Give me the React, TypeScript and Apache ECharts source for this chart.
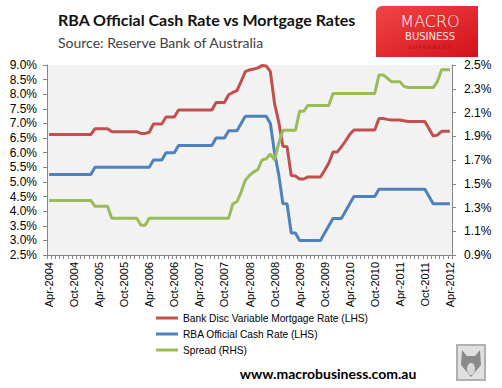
import React, { useEffect, useRef } from "react";
import * as echarts from "echarts";

const MONTH_NAMES = ["Jan", "Feb", "Mar", "Apr", "May", "Jun", "Jul", "Aug", "Sep", "Oct", "Nov", "Dec"];
const START_YEAR = 2004;
const START_MONTH = 3; // Apr
const MONTH_COUNT = 97; // Apr-2004 .. Apr-2012
const categories: string[] = [];
for (let i = 0; i < MONTH_COUNT; i++) {
  const k = START_MONTH + i;
  categories.push(`${MONTH_NAMES[k % 12]}-${START_YEAR + Math.floor(k / 12)}`);
}

const SERIES_NAMES = [
  "Bank Disc Variable Mortgage Rate (LHS)",
  "RBA Official Cash Rate (LHS)",
  "Spread (RHS)",
];

// Bank discounted variable mortgage rate (%), monthly from Apr-2004
const mortgageRate: number[] = [
  6.62, 6.62, 6.62, 6.62, 6.62, 6.62, 6.62, 6.62, 6.62,
  6.62, 6.62, 6.82, 6.82, 6.82, 6.82, 6.72, 6.72, 6.72, 6.72, 6.72, 6.72,
  6.72, 6.66, 6.66, 6.70, 6.98, 6.98, 6.98, 7.22, 7.22, 7.22, 7.46, 7.46,
  7.46, 7.46, 7.46, 7.46, 7.46, 7.46, 7.46, 7.72, 7.72, 7.72, 7.98, 8.06,
  8.12, 8.44, 8.77, 8.83, 8.86, 8.90, 8.98, 8.97, 8.77, 7.68, 7.05, 6.22,
  6.20, 5.22, 5.20, 5.10, 5.10, 5.17, 5.17, 5.17, 5.17, 5.40, 5.65, 6.02,
  6.02, 6.20, 6.40, 6.62, 6.78, 6.78, 6.78, 6.78, 6.78, 6.78, 7.17, 7.17,
  7.14, 7.12, 7.12, 7.12, 7.09, 7.07, 7.07, 7.07, 7.07, 7.07, 6.82, 6.57,
  6.60, 6.73, 6.73, 6.73,
];

// RBA official cash rate (%), monthly from Apr-2004
const cashRate: number[] = [
  5.25, 5.25, 5.25, 5.25, 5.25, 5.25, 5.25, 5.25, 5.25,
  5.25, 5.25, 5.5, 5.5, 5.5, 5.5, 5.5, 5.5, 5.5, 5.5, 5.5, 5.5,
  5.5, 5.5, 5.5, 5.5, 5.75, 5.75, 5.75, 6.0, 6.0, 6.0, 6.25, 6.25,
  6.25, 6.25, 6.25, 6.25, 6.25, 6.25, 6.25, 6.5, 6.5, 6.5, 6.75, 6.75,
  6.75, 7.0, 7.25, 7.25, 7.25, 7.25, 7.25, 7.25, 7.0, 6.0, 5.25, 4.25,
  4.25, 3.25, 3.25, 3.0, 3.0, 3.0, 3.0, 3.0, 3.0, 3.25, 3.5, 3.75,
  3.75, 3.75, 4.0, 4.25, 4.5, 4.5, 4.5, 4.5, 4.5, 4.5, 4.75, 4.75,
  4.75, 4.75, 4.75, 4.75, 4.75, 4.75, 4.75, 4.75, 4.75, 4.75, 4.5, 4.25,
  4.25, 4.25, 4.25, 4.25,
];

// Spread (%), monthly from Apr-2004 (right axis)
const spread: number[] = [
  1.36, 1.36, 1.36, 1.36, 1.36, 1.36, 1.36, 1.36, 1.36,
  1.36, 1.36, 1.31, 1.31, 1.31, 1.31, 1.21, 1.21, 1.21, 1.21, 1.21, 1.21,
  1.21, 1.15, 1.15, 1.21, 1.21, 1.21, 1.21, 1.21, 1.21, 1.21, 1.21, 1.21,
  1.21, 1.21, 1.21, 1.21, 1.21, 1.21, 1.21, 1.21, 1.21, 1.21, 1.21, 1.33,
  1.35, 1.43, 1.53, 1.57, 1.60, 1.62, 1.70, 1.71, 1.75, 1.70, 1.84, 1.95,
  1.95, 1.95, 1.95, 2.11, 2.11, 2.16, 2.16, 2.16, 2.16, 2.16, 2.16, 2.26,
  2.26, 2.26, 2.26, 2.26, 2.26, 2.26, 2.26, 2.26, 2.26, 2.26, 2.415, 2.415,
  2.39, 2.36, 2.36, 2.36, 2.32, 2.31, 2.31, 2.31, 2.31, 2.31, 2.31, 2.31,
  2.36, 2.46, 2.46, 2.46,
];

const LEFT_MIN = 2.5;
const LEFT_MAX = 9.0;
const LEFT_STEP = 0.5;
const RIGHT_MIN = 0.9;
const RIGHT_MAX = 2.5;
const RIGHT_STEP = 0.2;

const COLORS = ["#c0504d", "#4f81bd", "#9bbb59"];
const AXIS_FONT = "Liberation Sans";
const UI_FONT = "Lato";

export default function App() {
  const ref = useRef<HTMLDivElement>(null);

  useEffect(() => {
    if (!ref.current) return;
    const chart = echarts.init(ref.current, undefined, { renderer: "svg" });
    const axisLineStyle = { color: "#868686", width: 1 };
    const option: any = {
      animation: false,
      backgroundColor: "#ffffff",
      title: {
        text: "RBA Official Cash Rate vs Mortgage Rates",
        subtext: "Source: Reserve Bank of Australia",
        left: 58,
        top: 11,
        padding: 0,
        itemGap: 8,
        textStyle: { fontFamily: UI_FONT, fontSize: 16, fontWeight: "bold", color: "#111111" },
        subtextStyle: { fontFamily: UI_FONT, fontSize: 14, color: "#404040" },
      },
      grid: {
        left: 47,
        right: 50,
        top: 65,
        bottom: 133,
        show: true,
        backgroundColor: "#f2f2f2",
        borderWidth: 0,
        containLabel: false,
      },
      legend: {
        orient: "vertical",
        left: 156,
        top: 312,
        padding: 0,
        itemGap: 4,
        itemWidth: 22,
        itemHeight: 3,
        icon: "rect",
        data: SERIES_NAMES,
        textStyle: { fontFamily: AXIS_FONT, fontSize: 10.2, color: "#000", lineHeight: 12 },
      },
      xAxis: {
        type: "category",
        data: categories,
        boundaryGap: true,
        axisLine: { show: true, lineStyle: axisLineStyle },
        axisTick: { show: true, interval: 0, length: 4, lineStyle: axisLineStyle },
        axisLabel: {
          interval: 5,
          rotate: 90,
          margin: 7,
          fontFamily: AXIS_FONT,
          fontSize: 11,
          color: "#000",
        },
        splitLine: { show: false },
      },
      yAxis: [
        {
          type: "value",
          min: LEFT_MIN,
          max: LEFT_MAX,
          interval: LEFT_STEP,
          position: "left",
          axisLine: { show: true, lineStyle: axisLineStyle },
          axisTick: { show: true, length: 4, lineStyle: axisLineStyle },
          axisLabel: {
            margin: 10,
            fontFamily: AXIS_FONT,
            fontSize: 12,
            color: "#000",
            formatter: (v: number) => v.toFixed(1) + "%",
          },
          splitLine: { show: false },
        },
        {
          type: "value",
          min: RIGHT_MIN,
          max: RIGHT_MAX,
          interval: RIGHT_STEP,
          position: "right",
          axisLine: { show: true, lineStyle: axisLineStyle },
          axisTick: { show: true, length: 4, lineStyle: axisLineStyle },
          axisLabel: {
            margin: 12,
            fontFamily: AXIS_FONT,
            fontSize: 12,
            color: "#000",
            formatter: (v: number) => v.toFixed(1) + "%",
          },
          splitLine: { show: false },
        },
      ],
      series: [
        {
          name: SERIES_NAMES[0],
          type: "line",
          data: mortgageRate,
          yAxisIndex: 0,
          showSymbol: false,
          symbol: "none",
          lineStyle: { width: 3, color: COLORS[0] },
          itemStyle: { color: COLORS[0] },
        },
        {
          name: SERIES_NAMES[1],
          type: "line",
          data: cashRate,
          yAxisIndex: 0,
          showSymbol: false,
          symbol: "none",
          lineStyle: { width: 3, color: COLORS[1] },
          itemStyle: { color: COLORS[1] },
        },
        {
          name: SERIES_NAMES[2],
          type: "line",
          data: spread,
          yAxisIndex: 1,
          showSymbol: false,
          symbol: "none",
          lineStyle: { width: 3, color: COLORS[2] },
          itemStyle: { color: COLORS[2] },
        },
      ],
      graphic: [
        {
          type: "rect",
          shape: { x: 376, y: 6, width: 102, height: 51, r: [6, 0, 0, 0] },
          style: {
            fill: new echarts.graphic.LinearGradient(0, 0, 1, 1, [
              { offset: 0, color: "#f04545" },
              { offset: 1, color: "#d3121a" },
            ]),
          },
        },
        {
          type: "text",
          x: 430,
          y: 21,
          style: {
            text: "MACRO",
            fontFamily: "DejaVu Sans",
            fontWeight: "lighter",
            fontSize: 16,
            fill: "#ffffff",
            align: "center",
            verticalAlign: "middle",
          },
        },
        {
          type: "text",
          x: 430,
          y: 36,
          style: {
            text: "BUSINESS",
            fontFamily: "DejaVu Sans",
            fontSize: 10,
            fill: "#ffe5e5",
            align: "center",
            verticalAlign: "middle",
          },
        },
        {
          type: "text",
          x: 430,
          y: 47,
          style: {
            text: "S U P E R B L O G",
            fontFamily: "DejaVu Sans",
            fontSize: 5,
            fill: "#a8141a",
            align: "center",
            verticalAlign: "middle",
          },
        },
        {
          type: "text",
          x: 328,
          y: 373,
          style: {
            text: "www.macrobusiness.com.au",
            fontFamily: UI_FONT,
            fontWeight: "bold",
            fontSize: 14,
            fill: "#000000",
            align: "center",
            verticalAlign: "middle",
          },
        },
        {
          type: "rect",
          shape: { x: 457, y: 345, width: 28, height: 35 },
          style: { fill: "#e0e0e0", stroke: "#b0b0b0", lineWidth: 2 },
        },
        {
          type: "polygon",
          shape: { points: [[462, 350], [467, 356], [475, 356], [480, 350], [481, 365], [471, 377], [461, 365]] },
          style: { fill: "#8a8a8a" },
        },
        {
          type: "ellipse",
          shape: { cx: 471, cy: 369, rx: 4, ry: 6 },
          style: { fill: "#d8d8d8" },
        },
      ],
    };
    chart.setOption(option);
    return () => chart.dispose();
  }, []);

  return <div ref={ref} style={{ width: 502, height: 388, position: "absolute", left: 0, top: 0 }} />;
}
